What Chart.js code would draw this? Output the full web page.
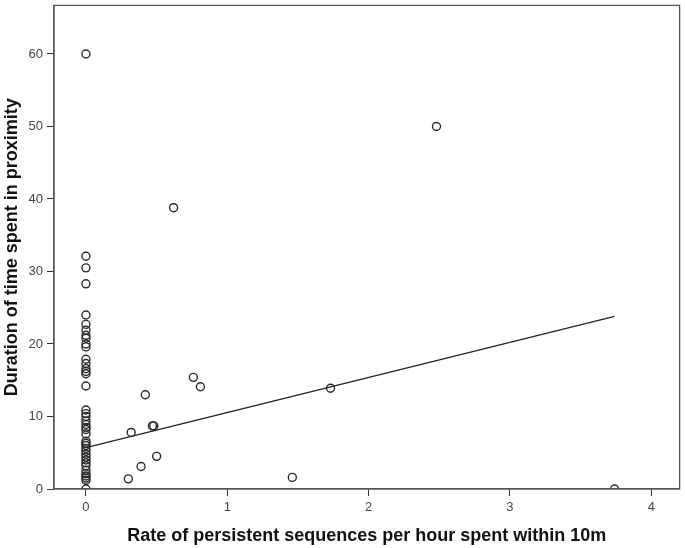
<!DOCTYPE html>
<html>
<head>
<meta charset="utf-8">
<script src="https://cdn.jsdelivr.net/npm/chart.js@4/dist/chart.umd.min.js"></script>
<style>
	html, body { margin: 0; padding: 0; background: #fff; }
	#wrap { width: 685px; height: 548px; }
</style>
</head>
<body>
<div id="wrap"><canvas id="scatter-chart"></canvas></div>
<script>
// cases with a rate of 0 (the column at x = 0)
const zeroRateDurations = [
	60, 32.1, 30.5, 28.3, 24.0, 22.7, 21.9, 21.2, 20.8, 20.0, 19.6,
	17.9, 17.3, 16.6, 16.2, 15.9, 14.2,
	10.9, 10.4, 10.0, 9.4, 8.9, 8.5, 8.2, 7.6, 6.6, 6.3, 6.0, 5.6,
	5.2, 4.8, 4.4, 4.0, 3.6, 3.2, 2.6, 2.1, 1.8, 1.5, 1.2, 0
];

// remaining cases
const rates = [2.48, 0.62, 0.76, 0.81, 1.73, 0.42, 0.47, 0.48, 0.32, 0.50, 0.39, 0.30, 1.46, 3.74];
const durations = [50.0, 38.8, 15.4, 14.1, 13.9, 13.0, 8.7, 8.7, 7.8, 4.5, 3.1, 1.4, 1.6, 0];

// fitted line ends
const fitX = [0, 3.74];
const fitY = [5.7, 23.8];

const xTicks = [0, 1, 2, 3, 4];
const yTicks = [0, 10, 20, 30, 40, 50, 60];

const points = zeroRateDurations.map(function (d) {
	return { x: 0, y: d };
}).concat(rates.map(function (r, i) {
	return { x: r, y: durations[i] };
}));

const fitLine = fitX.map(function (x, i) {
	return { x: x, y: fitY[i] };
});

const framePlugin = {
	id: "frame",
	afterDatasetsDraw(chart) {
		const a = chart.chartArea;
		const ctx = chart.ctx;
		ctx.save();
		ctx.strokeStyle = "#555";
		ctx.lineWidth = 1.3;
		ctx.strokeRect(a.left, a.top, a.right - a.left, a.bottom - a.top);
		ctx.restore();
	}
};

const tickFont = { family: "'Liberation Sans', Arial, sans-serif", size: 13 };
const titleFont = { family: "'Liberation Sans', Arial, sans-serif", size: 18, weight: "bold" };

const scatterContext = document.getElementById("scatter-chart").getContext("2d");
const scatterChart = new Chart(scatterContext, {
	type: "scatter",
	data: {
		datasets: [
			{
				data: points,
				pointStyle: "circle",
				pointRadius: 4,
				pointBorderWidth: 1.4,
				pointBorderColor: "#2a2a2a",
				pointBackgroundColor: "rgba(0,0,0,0)"
			},
			{
				type: "line",
				data: fitLine,
				borderColor: "#222",
				borderWidth: 1.3,
				pointRadius: 0,
				fill: false
			}
		]
	},
	options: {
		responsive: true,
		maintainAspectRatio: false,
		animation: false,
		layout: { padding: { top: 3, right: 4, left: 0, bottom: 0 } },
		plugins: {
			legend: { display: false },
			tooltip: { enabled: false }
		},
		scales: {
			x: {
				type: "linear",
				min: -0.226,
				max: 4.2,
				afterBuildTicks: function (scale) {
					scale.ticks = xTicks.map(function (v) { return { value: v }; });
				},
				afterFit: function (scale) {
					scale.height = 59;
					scale.paddingLeft = 0;
					scale.paddingRight = 0;
				},
				border: { display: true, color: "#555", width: 1.3 },
				grid: { display: true, drawOnChartArea: false, drawTicks: true, tickLength: 7, color: "#333" },
				ticks: { color: "#444", font: tickFont, padding: 4, maxRotation: 0 },
				title: {
					display: true,
					text: "Rate of persistent sequences per hour spent within 10m",
					color: "#111",
					font: titleFont,
					padding: { top: 0, bottom: 1 }
				}
			},
			y: {
				type: "linear",
				min: 0,
				max: 66.7,
				afterBuildTicks: function (scale) {
					scale.ticks = yTicks.map(function (v) { return { value: v }; });
				},
				afterFit: function (scale) {
					scale.width = 54;
					scale.paddingTop = 0;
					scale.paddingBottom = 0;
				},
				border: { display: true, color: "#555", width: 1.3 },
				grid: { display: true, drawOnChartArea: false, drawTicks: true, tickLength: 7, color: "#333" },
				ticks: { color: "#444", font: tickFont, padding: 4 },
				title: {
					display: true,
					text: "Duration of time spent in proximity",
					color: "#111",
					font: titleFont,
					padding: { top: 1, bottom: 0 }
				}
			}
		}
	},
	plugins: [framePlugin]
});
</script>
</body>
</html>
